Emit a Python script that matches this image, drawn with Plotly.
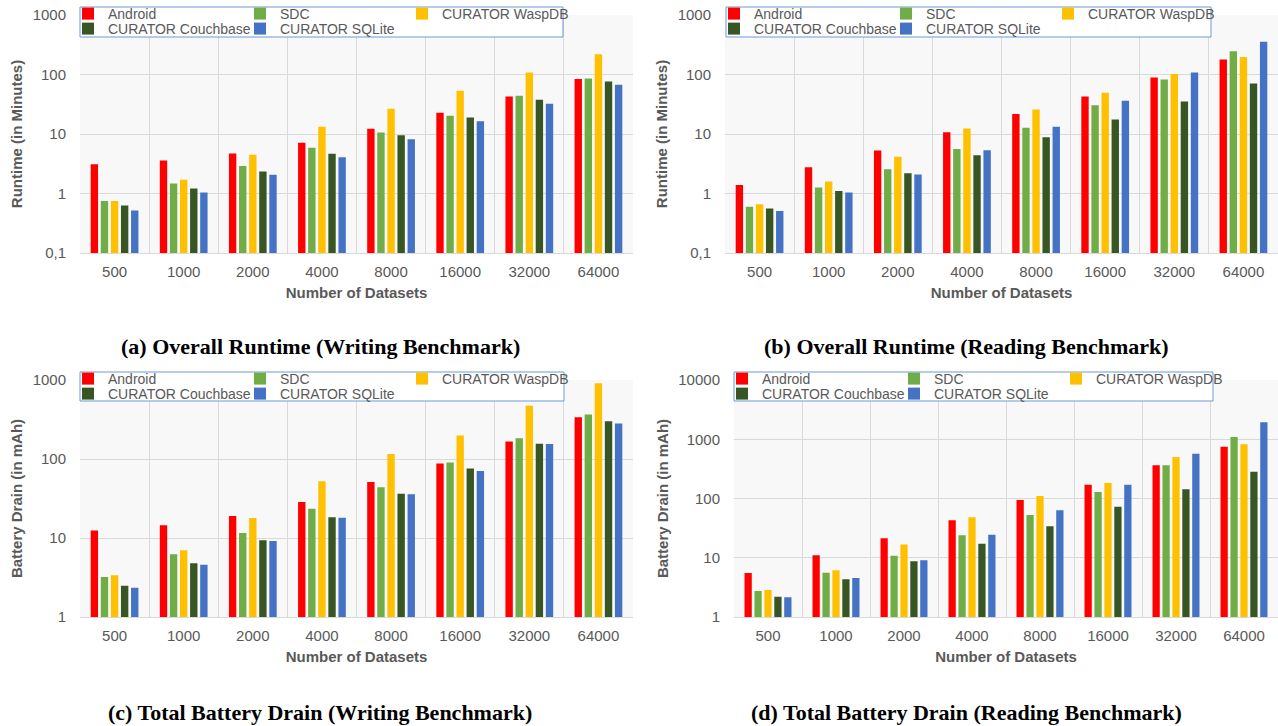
import plotly.graph_objects as go

W, H = 1278, 726

categories = ["500", "1000", "2000", "4000", "8000", "16000", "32000", "64000"]
series_names = ["Android", "SDC", "CURATOR WaspDB", "CURATOR Couchbase", "CURATOR SQLite"]
series_colors = ["#FF0000", "#70AD47", "#FFC000", "#375623", "#4472C4"]

# (a) Overall Runtime (Writing Benchmark), minutes
a_android = [3.1, 3.6, 4.7, 7.1, 12.2, 22.7, 42.8, 83.7]
a_sdc = [0.75, 1.47, 2.9, 5.85, 10.6, 20.2, 43.9, 86]
a_waspdb = [0.75, 1.71, 4.46, 13.2, 26.5, 53.3, 108, 218]
a_couchbase = [0.63, 1.21, 2.34, 4.64, 9.56, 19.0, 37.6, 76.5]
a_sqlite = [0.52, 1.04, 2.06, 4.07, 8.2, 16.4, 32.2, 67.2]

# (b) Overall Runtime (Reading Benchmark), minutes
b_android = [1.39, 2.77, 5.27, 10.7, 21.6, 42.8, 89.3, 179]
b_sdc = [0.60, 1.26, 2.56, 5.6, 12.7, 30.5, 82.6, 245]
b_waspdb = [0.66, 1.59, 4.13, 12.4, 25.8, 49.3, 102, 196]
b_couchbase = [0.56, 1.10, 2.19, 4.4, 8.85, 17.5, 35.2, 70.8]
b_sqlite = [0.51, 1.04, 2.08, 5.35, 13.2, 36.1, 108, 356]

# (c) Total Battery Drain (Writing Benchmark), mAh
c_android = [12.4, 14.5, 19.0, 28.6, 51.1, 88, 166, 337]
c_sdc = [3.21, 6.21, 11.6, 23.5, 43.8, 90, 183, 367]
c_waspdb = [3.37, 6.98, 17.9, 52.1, 116, 199, 473, 907]
c_couchbase = [2.49, 4.78, 9.34, 18.3, 36.4, 76, 156, 300]
c_sqlite = [2.35, 4.6, 9.17, 18.1, 35.7, 70.5, 155, 282]

# (d) Total Battery Drain (Reading Benchmark), mAh
d_android = [5.53, 11.0, 21.3, 42.8, 94.3, 171, 363, 750]
d_sdc = [2.75, 5.6, 10.8, 23.9, 52.7, 129, 363, 1092]
d_waspdb = [2.86, 6.13, 16.8, 48.1, 110, 183, 502, 821]
d_couchbase = [2.2, 4.32, 8.7, 17.3, 33.9, 72.8, 143, 284]
d_sqlite = [2.15, 4.55, 9.04, 24.5, 63.1, 171, 571, 1930]

runtime_tickvals = [0.1, 1, 10, 100, 1000]
runtime_ticktext = ["0,1", "1", "10", "100", "1000"]
drain_c_tickvals = [1, 10, 100, 1000]
drain_c_ticktext = ["1", "10", "100", "1000"]
drain_d_tickvals = [1, 10, 100, 1000, 10000]
drain_d_ticktext = ["1", "10", "100", "1000", "10000"]

x_title = "Number of Datasets"
captions = [
    "(a) Overall Runtime (Writing Benchmark)",
    "(b) Overall Runtime (Reading Benchmark)",
    "(c) Total Battery Drain (Writing Benchmark)",
    "(d) Total Battery Drain (Reading Benchmark)",
]

GRAY = "#595959"
GRID = "#d9d9d9"
SANS = "Liberation Sans, Arial, sans-serif"
TICKFONT = dict(family=SANS, size=15, color=GRAY)
TITLEFONT = dict(family=SANS, size=15, color=GRAY, weight="bold")


def px(x):
    return x / W


def py(y):
    return 1 - y / H


# panel geometry in picture pixels: plot left, right, top, bottom
panels = [
    dict(series=[a_android, a_sdc, a_waspdb, a_couchbase, a_sqlite], l=80, r=633, t=15, b=253,
         rng=[-1, 3], tv=runtime_tickvals, tt=runtime_ticktext, ytitle="Runtime (in Minutes)",
         box=(80, 563, 7, 37), cap=(320, 346)),
    dict(series=[b_android, b_sdc, b_waspdb, b_couchbase, b_sqlite], l=725, r=1278, t=15, b=253,
         rng=[-1, 3], tv=runtime_tickvals, tt=runtime_ticktext, ytitle="Runtime (in Minutes)",
         box=(726, 1211, 7, 37), cap=(966, 346)),
    dict(series=[c_android, c_sdc, c_waspdb, c_couchbase, c_sqlite], l=80, r=633, t=380, b=617,
         rng=[0, 3], tv=drain_c_tickvals, tt=drain_c_ticktext, ytitle="Battery Drain (in mAh)",
         box=(80, 564, 372, 401), cap=(320, 712)),
    dict(series=[d_android, d_sdc, d_waspdb, d_couchbase, d_sqlite], l=734, r=1278, t=380, b=617,
         rng=[0, 4], tv=drain_d_tickvals, tt=drain_d_ticktext, ytitle="Battery Drain (in mAh)",
         box=(734, 1213, 372, 401), cap=(966, 712)),
]

fig = go.Figure()
layout = dict(
    width=W, height=H, margin=dict(l=0, r=0, t=0, b=0, pad=0, autoexpand=False),
    paper_bgcolor="white", plot_bgcolor="#f8f8f8",
    barmode="group", bargap=0.27, bargroupgap=0.27,
    shapes=[], annotations=[],
)

# legend swatch left positions (px) relative to box left; rows relative to box top
col_off = [2, 174, 336]
row_of = [0, 0, 0, 1, 1]
col_of = [0, 1, 2, 0, 1]
row_y = [7, 22]

legend_idx = 0
for p_i, p in enumerate(panels):
    ax = "" if p_i == 0 else str(p_i + 1)
    xa, ya = "x" + ax, "y" + ax
    bx0, bx1, by0, by1 = p["box"]
    for s_i, vals in enumerate(p["series"]):
        legend_idx += 1
        lname = "legend" if legend_idx == 1 else "legend%d" % legend_idx
        fig.add_trace(go.Bar(
            x=categories, y=vals, name=series_names[s_i],
            marker=dict(color=series_colors[s_i], line=dict(width=0)),
            xaxis=xa, yaxis=ya, legend=lname, showlegend=True,
        ))
        swatch_x = bx0 + col_off[col_of[s_i]]
        ly = by0 + row_y[row_of[s_i]]
        layout[lname] = dict(
            x=px(swatch_x - 14), xanchor="left", xref="paper",
            y=py(ly), yanchor="middle", yref="paper",
            orientation="h", bgcolor="rgba(0,0,0,0)", borderwidth=0,
            font=dict(family=SANS, size=14, color=GRAY),
        )
    layout["xaxis" + ax] = dict(
        domain=[px(p["l"]), min(1.0, px(p["r"]))], anchor=ya, automargin=False,
        type="category", tickson="boundaries", showgrid=True, gridcolor=GRID, gridwidth=1,
        showline=True, linecolor=GRID, linewidth=1,
        ticks="", ticklabelstandoff=5, ticklabeloverflow="allow",
        tickfont=TICKFONT,
        title=dict(text=x_title, font=TITLEFONT, standoff=8),
    )
    layout["yaxis" + ax] = dict(
        domain=[py(p["b"]), py(p["t"])], anchor=xa, automargin=False,
        type="log", range=p["rng"], tickvals=p["tv"], ticktext=p["tt"],
        showgrid=True, gridcolor=GRID, gridwidth=1, zeroline=False, showline=False,
        ticks="outside", ticklen=10, tickcolor="rgba(0,0,0,0)", ticklabeloverflow="allow",
        tickfont=TICKFONT,
        title=dict(text=p["ytitle"], font=TITLEFONT, standoff=6),
    )
    layout["shapes"].append(dict(
        type="rect", xref="paper", yref="paper",
        x0=px(bx0), x1=px(bx1), y0=py(by1), y1=py(by0),
        fillcolor="white", line=dict(color="#6A9BD1", width=1), layer="above",
    ))
    cx, cy = p["cap"]
    layout["annotations"].append(dict(
        text="<b>%s</b>" % captions[p_i], xref="paper", yref="paper",
        x=px(cx), y=py(cy), xanchor="center", yanchor="middle", showarrow=False,
        font=dict(family="Liberation Serif, Times New Roman, serif", size=22, color="black"),
    ))

fig.update_layout(**layout)
# remove the default 8px page margin so the figure fills the window exactly
fig.write_html("out.html", config={"displayModeBar": False},
               post_script="document.body.style.margin='0px';")
